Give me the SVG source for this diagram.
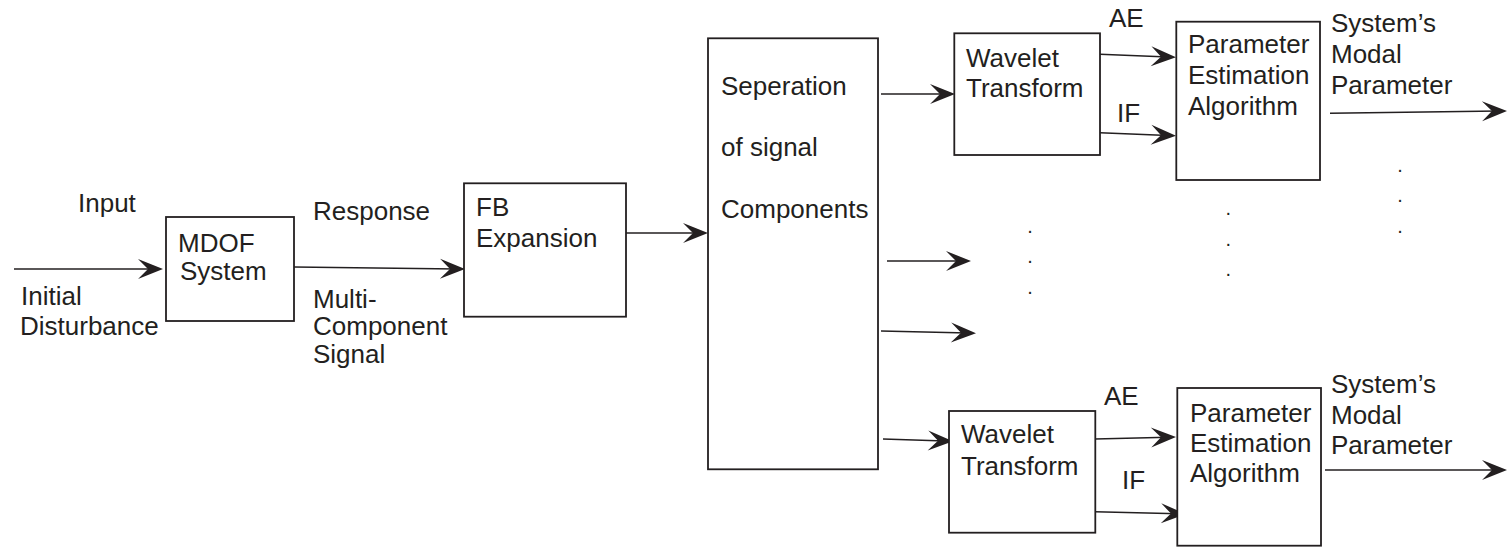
<svg xmlns="http://www.w3.org/2000/svg" width="1508" height="547" viewBox="0 0 1508 547">
<style>
.box{fill:#fff;stroke:#231f20;stroke-width:1.8}
.t{font-family:"Liberation Sans",Arial,sans-serif;font-size:26px;fill:#231f20}
.d{font-family:"Liberation Sans",Arial,sans-serif;font-size:20px;fill:#231f20;text-anchor:middle}
.c{fill:none;stroke:#231f20;stroke-width:1.5;marker-end:url(#ah)}
</style>
<defs>
<marker id="ah" markerUnits="userSpaceOnUse" markerWidth="32" markerHeight="24" viewBox="-26 -12 32 24" refX="-8" refY="0" orient="auto">
<path d="M0,0 L-25,-10 L-15,0 L-25,10 Z" fill="#231f20"/>
</marker>
</defs>
<rect width="1508" height="547" fill="#fff"/>
<g id="connectors">
<line class="c" x1="14" y1="269" x2="155" y2="269"/>
<line class="c" x1="294" y1="267" x2="457" y2="269"/>
<line class="c" x1="626" y1="233" x2="700" y2="233"/>
<line class="c" x1="881" y1="94" x2="947" y2="94"/>
<line class="c" x1="887" y1="261" x2="963" y2="261"/>
<line class="c" x1="881" y1="331" x2="968" y2="333"/>
<line class="c" x1="883" y1="439" x2="945" y2="441"/>
<line class="c" x1="1100" y1="54.3" x2="1168" y2="57"/>
<line class="c" x1="1100" y1="132.7" x2="1168" y2="135.5"/>
<line class="c" x1="1330" y1="113.3" x2="1499" y2="111"/>
<line class="c" x1="1095" y1="439" x2="1168" y2="437.2"/>
<line class="c" x1="1095" y1="511.7" x2="1178" y2="513.8"/>
<line class="c" x1="1325" y1="470" x2="1499" y2="470"/>
</g>
<g id="input-label">
<text class="t" x="78" y="212">Input</text>
<text class="t" x="21" y="305">Initial</text>
<text class="t" x="20" y="335">Disturbance</text>
</g>
<g id="mdof">
<rect class="box" x="166" y="217" width="128" height="104"/>
<text class="t" x="178" y="251.7">MDOF</text>
<text class="t" x="180" y="280">System</text>
</g>
<g id="response-label">
<text class="t" x="313" y="220">Response</text>
<text class="t" x="313" y="308">Multi-</text>
<text class="t" x="313" y="335">Component</text>
<text class="t" x="313" y="363">Signal</text>
</g>
<g id="fb">
<rect class="box" x="464" y="183.3" width="162" height="133.4"/>
<text class="t" x="476" y="215.7">FB</text>
<text class="t" x="476" y="246.7">Expansion</text>
</g>
<g id="separation">
<rect class="box" x="708" y="38.3" width="170" height="431"/>
<text class="t" x="721" y="95">Seperation</text>
<text class="t" x="721" y="156">of signal</text>
<text class="t" x="721" y="218.3">Components</text>
</g>
<g id="wavelet-top">
<rect class="box" x="954.3" y="33.3" width="145.7" height="121.7"/>
<text class="t" x="966" y="66.7">Wavelet</text>
<text class="t" x="966" y="97.3">Transform</text>
</g>
<g id="labels-top">
<text class="t" x="1109" y="27.3">AE</text>
<text class="t" x="1117" y="121.7">IF</text>
</g>
<g id="param-top">
<rect class="box" x="1176.3" y="21.7" width="143.7" height="158.3"/>
<text class="t" x="1188" y="53.3">Parameter</text>
<text class="t" x="1188" y="84.3">Estimation</text>
<text class="t" x="1188" y="115">Algorithm</text>
</g>
<g id="output-top">
<text class="t" x="1331" y="32.3">System’s</text>
<text class="t" x="1331" y="63.3">Modal</text>
<text class="t" x="1331" y="94">Parameter</text>
</g>
<g id="wavelet-bottom">
<rect class="box" x="949" y="411" width="146.3" height="121.7"/>
<text class="t" x="961" y="443.3">Wavelet</text>
<text class="t" x="961" y="475">Transform</text>
</g>
<g id="labels-bottom">
<text class="t" x="1104" y="405">AE</text>
<text class="t" x="1122" y="489">IF</text>
</g>
<g id="param-bottom">
<rect class="box" x="1177.3" y="388" width="143.7" height="157.7"/>
<text class="t" x="1190" y="421.7">Parameter</text>
<text class="t" x="1190" y="451.7">Estimation</text>
<text class="t" x="1190" y="481.7">Algorithm</text>
</g>
<g id="output-bottom">
<text class="t" x="1331" y="393.3">System’s</text>
<text class="t" x="1331" y="424.3">Modal</text>
<text class="t" x="1331" y="454.3">Parameter</text>
</g>
<g id="dots">
<text class="d" x="1030" y="233">.</text>
<text class="d" x="1030" y="262.5">.</text>
<text class="d" x="1030" y="293.5">.</text>
<text class="d" x="1228.3" y="214.5">.</text>
<text class="d" x="1228.3" y="245.5">.</text>
<text class="d" x="1228.3" y="275.5">.</text>
<text class="d" x="1400" y="172">.</text>
<text class="d" x="1400" y="202">.</text>
<text class="d" x="1400" y="232.5">.</text>
</g>
</svg>
